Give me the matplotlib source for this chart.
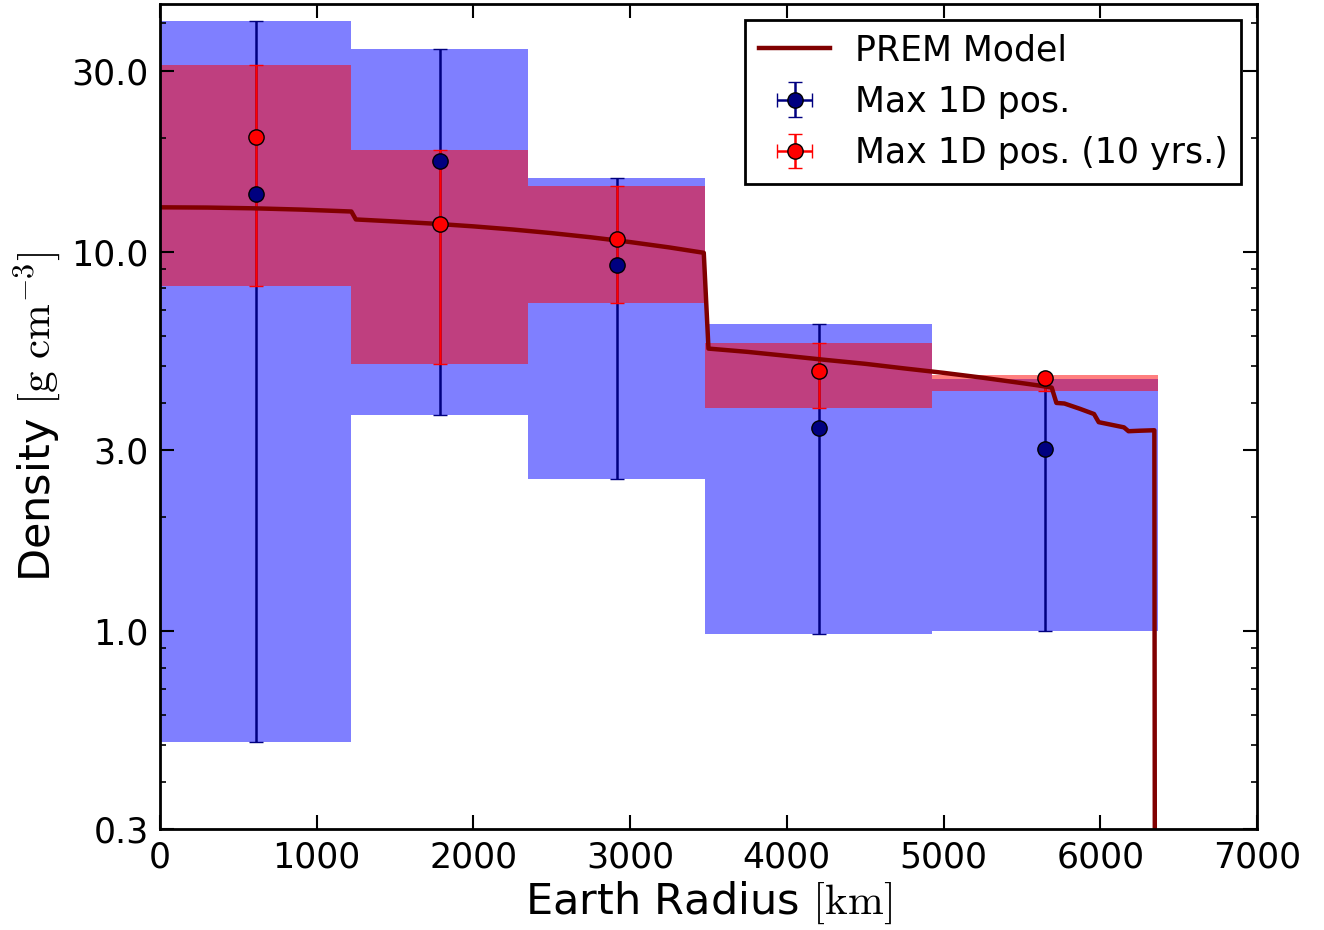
import matplotlib
matplotlib.use("Agg")
import matplotlib.pyplot as plt
import matplotlib.ticker as mticker
import numpy as np

plt.rcParams['font.family'] = ['DejaVu Sans']
plt.rcParams['mathtext.fontset'] = 'cm'

# Bin edges (km)
bin_edges = [0, 1221.5, 2350, 3480, 4925, 6371]
bin_centers = [611, 1786, 2915, 4203, 5648]

# Max 1D pos. (full data) : central values and box/limits
blue_val = [14.2, 17.3, 9.24, 3.42, 3.01]
blue_lo = [0.51, 3.70, 2.51, 0.98, 1.00]
blue_hi = [40.5, 34.2, 15.6, 6.43, 4.61]

# Max 1D pos. (10 yrs.)
red_val = [20.1, 11.85, 10.8, 4.83, 4.63]
red_lo = [8.14, 5.04, 7.30, 3.86, 4.30]
red_hi = [31.0, 18.5, 14.9, 5.73, 4.72]

# PREM model density profile (radius km, density g/cm^3)
prem_r = [0, 300, 600, 900, 1221.5, 1250, 1500, 1750, 2000, 2250, 2500, 2750,
          3000, 3250, 3470, 3500, 3750, 4000, 4250, 4500, 4750, 5000, 5250,
          5500, 5600, 5690, 5720, 5771, 5870, 5960, 5990, 6151, 6180, 6250,
          6345, 6350]
prem_rho = [13.09, 13.07, 13.01, 12.91, 12.76, 12.16, 12.01, 11.85, 11.66,
            11.44, 11.19, 10.91, 10.60, 10.26, 9.93, 5.55, 5.44, 5.31, 5.18,
            5.06, 4.92, 4.79, 4.65, 4.50, 4.44, 4.38, 3.99, 3.976, 3.85, 3.73,
            3.55, 3.44, 3.36, 3.37, 3.38, 0.05]

fig = plt.figure(figsize=(13.24, 9.30), dpi=100)
ax = fig.add_axes([0.1208, 0.1086, 0.8286, 0.8871])

edges = np.array(bin_edges)
widths = np.diff(edges)
blue_lo_a = np.array(blue_lo); blue_hi_a = np.array(blue_hi)
red_lo_a = np.array(red_lo); red_hi_a = np.array(red_hi)

ax.bar(edges[:-1], blue_hi_a - blue_lo_a, bottom=blue_lo_a, width=widths,
       align='edge', color='b', alpha=0.5, linewidth=0, zorder=1)
ax.bar(edges[:-1], red_hi_a - red_lo_a, bottom=red_lo_a, width=widths,
       align='edge', color='r', alpha=0.5, linewidth=0, zorder=1.1)

line, = ax.plot(prem_r, prem_rho, color='#800000', lw=3.2, zorder=2.5,
                label='PREM Model')

bv = np.array(blue_val); rv = np.array(red_val)
eb1 = ax.errorbar(bin_centers, bv, xerr=0,
                  yerr=[bv - blue_lo_a, blue_hi_a - bv], fmt='o',
                  color='#000080', ecolor='#000080', mec='k', mew=1,
                  ms=11, elinewidth=1.8, capsize=5, capthick=1.5,
                  zorder=3, label='Max 1D pos.')
eb2 = ax.errorbar(bin_centers, rv, xerr=0,
                  yerr=[rv - red_lo_a, red_hi_a - rv], fmt='o',
                  color='r', ecolor='r', mec='k', mew=1,
                  ms=11, elinewidth=1.8, capsize=5, capthick=1.5,
                  zorder=3.2, label='Max 1D pos. (10 yrs.)')
for eb, z in ((eb1, 2.2), (eb2, 2.3)):
    for c in eb[1]:
        c.set_zorder(z)
    for c in eb[2]:
        c.set_zorder(z)

ax.set_yscale('log')
ax.set_xlim(0, 7000)
ax.set_ylim(0.3, 45)

yticks = [0.3, 1.0, 3.0, 10.0, 30.0]
ax.yaxis.set_major_locator(mticker.FixedLocator(yticks))
ax.yaxis.set_major_formatter(mticker.FixedFormatter(['%.1f' % v for v in yticks]))
ax.yaxis.set_minor_locator(mticker.LogLocator(base=10, subs=np.arange(1, 10)))
ax.yaxis.set_minor_formatter(mticker.NullFormatter())
ax.xaxis.set_major_locator(mticker.MultipleLocator(1000))

ax.tick_params(which='both', direction='in', top=True, right=True)
ax.tick_params(which='major', length=10, width=1.5, labelsize=25, pad=8)
ax.tick_params(which='minor', length=4, width=1.2)
for s in ax.spines.values():
    s.set_linewidth(2)

ax.set_xlabel(r'Earth Radius $[\mathrm{km}]$', fontsize=31, labelpad=4)
ax.set_ylabel(r'Density $[\mathrm{g\ cm^{-3}}]$', fontsize=31, labelpad=6)

leg = ax.legend(handles=[line, eb1, eb2], loc='upper right', fontsize=25,
                fancybox=False, framealpha=1, edgecolor='k', numpoints=1,
                handlelength=2.05, borderaxespad=0.45, labelspacing=0.5,
                handletextpad=0.7, borderpad=0.4)
leg.get_frame().set_linewidth(2)

fig.savefig('out.png', dpi=100)
